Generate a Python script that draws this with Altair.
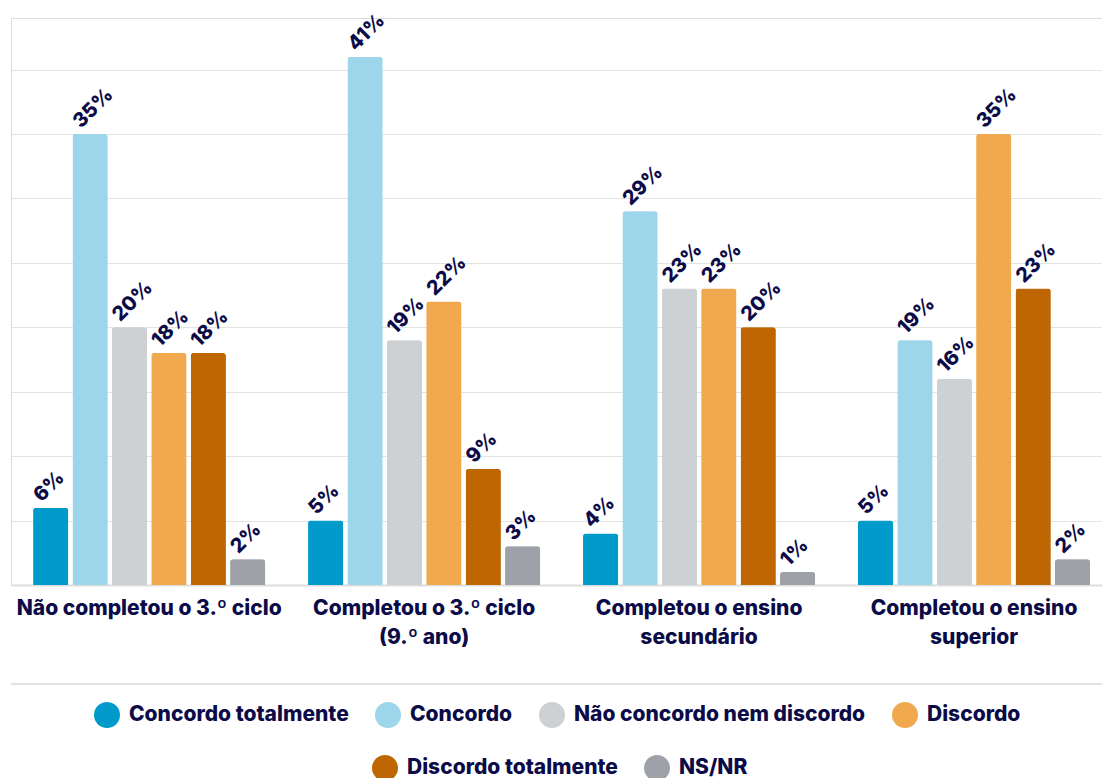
import altair as alt
import pandas as pd

groups = [
    "Não completou o 3.º ciclo",
    "Completou o 3.º ciclo\n(9.º ano)",
    "Completou o ensino\nsecundário",
    "Completou o ensino\nsuperior",
]
answers = [
    "Concordo totalmente",
    "Concordo",
    "Não concordo nem discordo",
    "Discordo",
    "Discordo totalmente",
    "NS/NR",
]
colors = ["#009bcb", "#9dd5ea", "#ced1d4", "#f0a94e", "#bd6602", "#9ea2a8"]

concordo_totalmente = [6, 5, 4, 5]
concordo = [35, 41, 29, 19]
nem_nem = [20, 19, 23, 16]
discordo = [18, 22, 23, 35]
discordo_totalmente = [18, 9, 20, 23]
ns_nr = [2, 3, 1, 2]

series = [concordo_totalmente, concordo, nem_nem, discordo, discordo_totalmente, ns_nr]
rows = []
for a, vals in zip(answers, series):
    for g, v in zip(groups, vals):
        rows.append({"group": g, "answer": a, "answer_b": a, "value": v})
df = pd.DataFrame(rows)

NAVY = "#0b0b48"
FONT = "Inter"
W, H = 1091, 567

x_enc = alt.X(
    "group:N",
    sort=groups,
    scale=alt.Scale(paddingInner=0.156, paddingOuter=0.062, align=0.65),
    axis=alt.Axis(
        title=None,
        labelAngle=0,
        labelExpr="split(datum.label, '\\n')",
        labelFont=FONT,
        labelFontSize=21,
        labelFontWeight=800,
        labelColor=NAVY,
        labelPadding=12,
        labelLineHeight=29,
        labelBaseline="top",
        labelLimit=0,
        ticks=False,
        domainColor="#dedede",
        domainWidth=2,
    ),
)
xo_enc = alt.XOffset("answer:N", sort=answers, scale=alt.Scale(paddingInner=0.11))
y_enc = alt.Y(
    "value:Q",
    scale=alt.Scale(domain=[0, 44], nice=False),
    axis=alt.Axis(
        title=None,
        labels=False,
        ticks=False,
        domain=False,
        values=[0, 5, 10, 15, 20, 25, 30, 35, 40],
        gridColor="#e3e3e3",
        gridWidth=1,
    ),
)

legend_common = dict(
    title=None,
    orient="none",
    direction="horizontal",
    symbolType="circle",
    symbolSize=676,
    symbolStrokeWidth=0,
    labelFont=FONT,
    labelFontSize=21,
    labelFontWeight=800,
    labelColor=NAVY,
    labelOffset=9,
    labelLimit=0,
    columnPadding=26,
    padding=0,
)

bars1 = alt.Chart(df).mark_bar(cornerRadiusTopLeft=3, cornerRadiusTopRight=3).encode(
    x=x_enc,
    xOffset=xo_enc,
    y=y_enc,
    color=alt.Color(
        "answer:N",
        scale=alt.Scale(domain=answers, range=colors),
        legend=alt.Legend(values=answers[:4], columns=4, legendX=83, legendY=684, **legend_common),
    ),
)
bars2 = alt.Chart(df).mark_bar(cornerRadiusTopLeft=3, cornerRadiusTopRight=3).encode(
    x=x_enc,
    xOffset=xo_enc,
    y=y_enc,
    fill=alt.Fill(
        "answer_b:N",
        scale=alt.Scale(domain=answers, range=colors),
        legend=alt.Legend(values=answers[4:], columns=2, legendX=361, legendY=737, **legend_common),
    ),
)
labels = alt.Chart(df).transform_calculate(
    label="format(datum.value, 'd') + '%'"
).mark_text(
    angle=315, align="left", baseline="middle", dx=-3, dy=-16,
    font=FONT, fontSize=20, fontWeight=800, color=NAVY,
).encode(x=x_enc, xOffset=xo_enc, y=y_enc, text="label:N")

sep = alt.Chart(pd.DataFrame({"k": [0]})).mark_rule(color="#e3e3e3", strokeWidth=2).encode(
    x=alt.value(0), x2=alt.value(W), y=alt.value(666)
)

chart = alt.layer(bars1, bars2, labels, sep).resolve_scale(
    color="independent", fill="independent"
).resolve_legend(color="independent", fill="independent").properties(
    width=W,
    height=H,
    autosize=alt.AutoSizeParams(type="none"),
    padding={"left": 11, "top": 18, "right": 0, "bottom": 193},
).configure_view(stroke=None).configure(background="white")

chart.save("out.html", embed_options={"renderer": "svg", "actions": False})
